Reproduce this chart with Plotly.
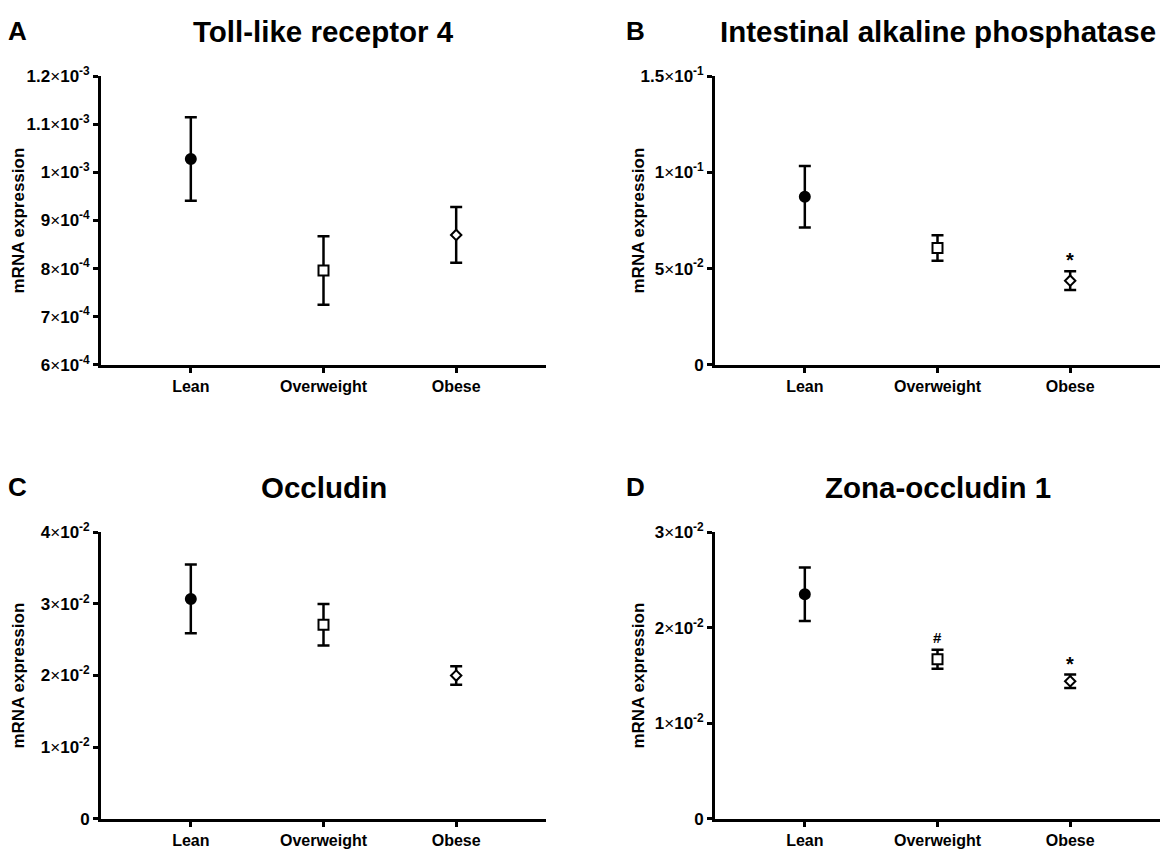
import plotly.graph_objects as go

# ---------------- data ----------------
groups = ["Lean", "Overweight", "Obese"]

tlr4_mean = [1.028e-3, 0.796e-3, 0.870e-3]
tlr4_sem = [0.087e-3, 0.071e-3, 0.058e-3]

iap_mean = [0.0873, 0.0607, 0.0437]
iap_sem = [0.0160, 0.0066, 0.0049]

ocln_mean = [0.0307, 0.0271, 0.0200]
ocln_sem = [0.0048, 0.0029, 0.0013]

zo1_mean = [0.0235, 0.0167, 0.0144]
zo1_sem = [0.0028, 0.0010, 0.0007]

panel_letters = ["A", "B", "C", "D"]
panel_titles = ["Toll-like receptor 4", "Intestinal alkaline phosphatase",
                "Occludin", "Zona-occludin 1"]
y_title = "mRNA expression"

X = "<span style='font-weight:normal'>\u00d7</span>"
tlr4_ticks = [6e-4, 7e-4, 8e-4, 9e-4, 1e-3, 1.1e-3, 1.2e-3]
tlr4_ticktext = ["6" + X + "10<sup>-4</sup>", "7" + X + "10<sup>-4</sup>",
                 "8" + X + "10<sup>-4</sup>", "9" + X + "10<sup>-4</sup>",
                 "1" + X + "10<sup>-3</sup>", "1.1" + X + "10<sup>-3</sup>",
                 "1.2" + X + "10<sup>-3</sup>"]
iap_ticks = [0, 0.05, 0.10, 0.15]
iap_ticktext = ["0", "5" + X + "10<sup>-2</sup>", "1" + X + "10<sup>-1</sup>",
                "1.5" + X + "10<sup>-1</sup>"]
ocln_ticks = [0, 0.01, 0.02, 0.03, 0.04]
ocln_ticktext = ["0", "1" + X + "10<sup>-2</sup>", "2" + X + "10<sup>-2</sup>",
                 "3" + X + "10<sup>-2</sup>", "4" + X + "10<sup>-2</sup>"]
zo1_ticks = [0, 0.01, 0.02, 0.03]
zo1_ticktext = ["0", "1" + X + "10<sup>-2</sup>", "2" + X + "10<sup>-2</sup>",
                "3" + X + "10<sup>-2</sup>"]

# significance marks: (panel index, group index, symbol)
sig_marks = [(1, 2, "*"), (3, 1, "#"), (3, 2, "*")]

# ---------------- styling / layout ----------------
W, H = 1161, 857
FONT = "Arial, 'Liberation Sans', Helvetica, sans-serif"
x_px = [(101, 546), (715, 1160), (101, 546), (715, 1160)]
y_px = [(66, 362), (66, 362), (534, 828), (534, 828)]

means = [tlr4_mean, iap_mean, ocln_mean, zo1_mean]
sems = [tlr4_sem, iap_sem, ocln_sem, zo1_sem]
yticks = [tlr4_ticks, iap_ticks, ocln_ticks, zo1_ticks]
ytext = [tlr4_ticktext, iap_ticktext, ocln_ticktext, zo1_ticktext]

fig = go.Figure()
xpos = list(range(len(groups)))

for i in range(4):
    sfx = "" if i == 0 else str(i + 1)
    fig.add_trace(go.Scatter(
        x=xpos, y=means[i], mode="markers",
        xaxis="x" + sfx, yaxis="y" + sfx, opacity=1,
        marker=dict(symbol=["circle", "square", "diamond"],
                    color=["black", "white", "white"],
                    size=[10, 10, 8], opacity=1,
                    line=dict(color="black", width=2)),
        error_y=dict(type="data", array=sems[i], color="black",
                     thickness=2.5, width=6),
        hoverinfo="skip", showlegend=False,
    ))
    x0, x1 = x_px[i]
    yt, yb = y_px[i]
    xa = dict(domain=[x0 / W, x1 / W], range=[-0.677, 2.677],
              anchor="y" + sfx, tickvals=xpos, ticktext=groups,
              showline=True, linecolor="black", linewidth=2.8,
              ticks="outside", ticklen=5, tickwidth=2.5, tickcolor="black",
              showgrid=False, zeroline=False, fixedrange=True,
              tickfont=dict(family=FONT, size=16, color="black", weight="bold"))
    ya = dict(domain=[1 - yb / H, 1 - yt / H],
              range=[yticks[i][0], yticks[i][-1]],
              anchor="x" + sfx, tickvals=yticks[i], ticktext=ytext[i],
              showline=True, linecolor="black", linewidth=2.8,
              ticks="outside", ticklen=5, tickwidth=2.5, tickcolor="black",
              showgrid=False, zeroline=False, fixedrange=True,
              tickfont=dict(family=FONT, size=17, color="black", weight="bold"))
    fig.update_layout(**{"xaxis" + sfx: xa, "yaxis" + sfx: ya})

    # panel letter
    fig.add_annotation(text=panel_letters[i], xref="paper", yref="paper",
                       x=(6 if i % 2 == 0 else 624) / W,
                       y=1 - (yt - 46) / H, xanchor="left", yanchor="middle",
                       showarrow=False,
                       font=dict(family=FONT, size=26, color="black", weight="bold"))
    # panel title
    fig.add_annotation(text=panel_titles[i], xref="paper", yref="paper",
                       x=(x0 + x1) / 2 / W, y=1 - (yt - 46) / H,
                       xanchor="center", yanchor="middle", showarrow=False,
                       font=dict(family=FONT, size=29.5, color="black", weight="bold"))
    # y-axis title
    fig.add_annotation(text=y_title, xref="paper", yref="paper",
                       x=(x0 - 82 if i % 2 == 0 else x0 - 76) / W,
                       y=1 - (yt + yb) / 2 / H, textangle=-90,
                       xanchor="center", yanchor="middle", showarrow=False,
                       font=dict(family=FONT, size=17, color="black", weight="bold"))

for (p, g, s) in sig_marks:
    sfx = "" if p == 0 else str(p + 1)
    fig.add_annotation(text=s, xref="x" + sfx, yref="y" + sfx,
                       x=xpos[g], y=means[p][g] + sems[p][g],
                       yanchor="bottom", yshift=2 if s == "#" else -2,
                       showarrow=False,
                       font=dict(family=FONT, size=20 if s == "*" else 15,
                                 color="black", weight="bold"))

fig.update_layout(width=W, height=H, margin=dict(l=0, r=0, t=0, b=0),
                  plot_bgcolor="white", paper_bgcolor="white",
                  showlegend=False)

fig.write_html("out.html", config={"displayModeBar": False},
               post_script="document.body.style.margin='0px';"
                           "document.body.style.overflow='hidden';")
